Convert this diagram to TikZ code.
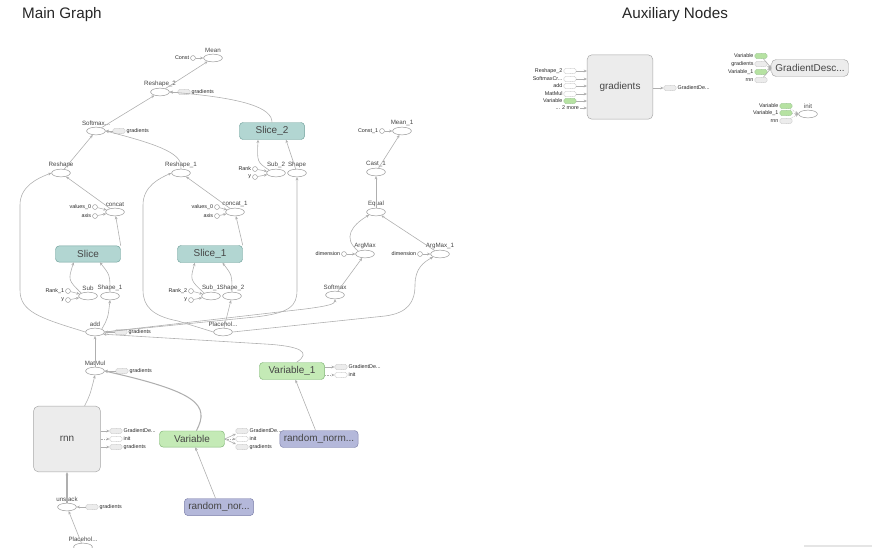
\documentclass[tikz,border=0pt]{standalone}
\usepackage{fontspec}
\setmainfont{Liberation Sans}
\usetikzlibrary{arrows.meta,shapes.geometric}
\definecolor{opline}{RGB}{150,150,150}
\definecolor{edgecol}{RGB}{175,175,175}
\definecolor{labcol}{RGB}{70,70,70}
\definecolor{slicefill}{RGB}{178,214,210}
\definecolor{sliceline}{RGB}{112,160,155}
\definecolor{varfill}{RGB}{196,234,182}
\definecolor{varline}{RGB}{125,180,115}
\definecolor{randfill}{RGB}{180,184,218}
\definecolor{randline}{RGB}{125,128,170}
\definecolor{metafill}{RGB}{236,236,236}
\definecolor{metaline}{RGB}{165,165,165}
\definecolor{gstubfill}{RGB}{182,226,162}
\newcommand\titlefont{\fontsize{13}{15}\selectfont}
\newcommand\boxfont{\fontsize{8.5}{10}\selectfont}
\newcommand\opfont{\fontsize{5.3}{6}\selectfont}
\newcommand\stubfont{\fontsize{4.6}{5.2}\selectfont}
\tikzset{
    opnode/.style = {
        draw=opline, fill=white, ellipse, inner sep=0pt,
        minimum width=16pt, minimum height=6.6pt,
        },
    constnode/.style = {
        draw=opline, fill=white, circle, inner sep=0pt,
        minimum size=4.2pt,
        },
    slicebox/.style = {
        draw=sliceline, fill=slicefill, rounded corners=3pt,
        minimum width=55.5pt, minimum height=13.7pt,
        font=\boxfont, text=labcol,
        },
    varbox/.style = {
        slicebox, draw=varline, fill=varfill,
        },
    randbox/.style = {
        slicebox, draw=randline, fill=randfill,
        },
    metabox/.style = {
        draw=metaline, fill=metafill, rounded corners=4pt,
        font=\boxfont, text=labcol,
        },
    stubbox/.style = {
        draw=gray!45, fill=gray!15, rounded corners=1.5pt,
        dash pattern=on 0.6pt off 0.4pt,
        minimum width=10.5pt, minimum height=4.4pt, inner sep=0pt,
        },
    gstub/.style = {
        stubbox, draw=varline!80, fill=gstubfill,
        },
    wstub/.style = {
        stubbox, fill=white,
        },
    conn/.style = {
        draw=edgecol, line width=0.5pt,
        -{Stealth[length=2.8pt,width=2.4pt]},
        },
    ctrlconn/.style = {
        conn, densely dotted,
        },
    every label/.style = {
        font=\opfont, text=labcol, inner sep=0.6pt,
        },
    sl/.style = {
        font=\stubfont, text=black!85, inner sep=0.8pt,
        },
}

\begin{document}
\begin{tikzpicture}[x=0.03cm, y=-0.03cm]
\useasboundingbox (0,0) rectangle (872,547);

\node[anchor=west, font=\titlefont, text=black!85] (maintitle) at (18,15) {Main Graph};
\node[anchor=west, font=\titlefont, text=black!85] (auxtitle) at (618,15) {Auxiliary Nodes};

% loss
\node[opnode, label=above:Mean] (mean) at (213,58) {};
\node[constnode, label={[sl]left:Const}] (cnst) at (193,58) {};
\node[opnode, label=above:Reshape\_2] (reshape2) at (160,92) {};
\node[stubbox, label={[sl]right:gradients}] (grad1) at (184,92) {};
\node[opnode, label=above:Softmax...] (softx) at (96,131) {};
\node[stubbox, label={[sl]right:gradients}] (grad2) at (119,131) {};
\node[slicebox] (slice2) at (272,131) {Slice\_2};
\node[opnode, label=above:Reshape] (reshape) at (61,173) {};
\node[opnode, label=above:Reshape\_1] (reshape1) at (181,173) {};
\node[opnode, label=above:Sub\_2] (sub2) at (276,173) {};
\node[opnode, label=above:Shape] (shape) at (297,173) {};
\node[constnode, label={[sl]left:Rank}] (rank) at (255,169) {};
\node[constnode, label={[sl]left:y}] (ya) at (255,177) {};

% concat / slice
\node[opnode, label=above:concat] (concat) at (115,212) {};
\node[constnode, label={[sl]left:values\_0}] (vals) at (95,207) {};
\node[constnode, label={[sl]left:axis}] (axis) at (95,216) {};
\node[opnode, label=above:concat\_1] (concat1) at (235,212) {};
\node[constnode, label={[sl]left:values\_0}] (vals1) at (217,207) {};
\node[constnode, label={[sl]left:axis}] (axis1) at (217,216) {};
\node[slicebox] (slice) at (88,254) {Slice};
\node[slicebox] (slice1) at (210,254) {Slice\_1};
\node[opnode, label=above:Sub] (sub) at (88,296) {};
\node[opnode, label=above:Shape\_1] (shape1) at (110,296) {};
\node[constnode, label={[sl]left:Rank\_1}] (rank1) at (68,291) {};
\node[constnode, label={[sl]left:y}] (yb) at (68,300) {};
\node[opnode, label=above:Sub\_1] (sub1) at (211,296) {};
\node[opnode, label=above:Shape\_2] (shape2) at (232,296) {};
\node[constnode, label={[sl]left:Rank\_2}] (rank2) at (191,291) {};
\node[constnode, label={[sl]left:y}] (yc) at (191,300) {};

% accuracy
\node[opnode, label=above:Mean\_1] (mean1) at (402,131) {};
\node[constnode, label={[sl]left:Const\_1}] (cnst1) at (382,131) {};
\node[opnode, label=above:Cast\_1] (cast1) at (376,172) {};
\node[opnode, label=above:Equal] (equal) at (376,212) {};
\node[opnode, label=above:ArgMax] (argmax) at (365,254) {};
\node[constnode, label={[sl]left:dimension}] (dim) at (344,254) {};
\node[opnode, label=above:ArgMax\_1] (argmax1) at (440,254) {};
\node[constnode, label={[sl]left:dimension}] (dim1) at (420,254) {};
\node[opnode, label=above:Softmax] (softmax) at (335,295) {};

% model
\node[opnode, label=above:add] (add) at (95,332) {};
\node[stubbox, label={[sl]right:gradients}] (grad3) at (121,332) {};
\node[opnode, label=above:Placehol...] (placeh1) at (223,332) {};
\node[opnode, label=above:MatMul] (matmul) at (95,371) {};
\node[stubbox, label={[sl]right:gradients}] (grad4) at (122,371) {};
\node[varbox] (var1) at (292,371) {Variable\_1};
\node[stubbox, label={[sl]right:GradientDe...}] (v1gd) at (341,367) {};
\node[wstub, label={[sl]right:init}] (v1init) at (341,375) {};
\node[metabox, minimum width=57pt, minimum height=56pt] (rnn) at (67,439) {rnn};
\node[stubbox, label={[sl]right:GradientDe...}] (rgd) at (116,431) {};
\node[wstub, label={[sl]right:init}] (rinit) at (116,439) {};
\node[stubbox, label={[sl]right:gradients}] (rgrad) at (116,447) {};
\node[varbox] (var) at (192,439) {Variable};
\node[stubbox, label={[sl]right:GradientDe...}] (vgd) at (242,431) {};
\node[wstub, label={[sl]right:init}] (vinit) at (242,439) {};
\node[stubbox, label={[sl]right:gradients}] (vgrad) at (242,447) {};
\node[randbox] (randnorm) at (319,439) {random\_norm...};
\node[randbox] (randnor) at (219,507) {random\_nor...};
\node[opnode, label=above:unstack] (unstack) at (67,507) {};
\node[stubbox, label={[sl]right:gradients}] (grad5) at (92,507) {};
\node[opnode, label=above:Placehol...] (placeh0) at (83,547) {};

% edges, loss
\draw[conn] (cnst) -- (mean);
\draw[conn] (reshape2) -- (mean);
\draw[conn] (grad1) -- (reshape2);
\draw[conn] (softx) -- (reshape2);
\draw[conn] (slice2.north) .. controls (272,108) and (245,98) .. (reshape2.east);
\draw[conn] (grad2) -- (softx);
\draw[conn] (reshape) -- (softx);
\draw[conn] (reshape1.north) .. controls (183,155) and (165,146) .. (softx.east);
\draw[conn] (sub2.north west) .. controls (257,162) .. (slice2.-148);
\draw[conn] (shape) -- (slice2.-32);
\draw[conn] (rank) -- (sub2);
\draw[conn] (ya) -- (sub2);
\draw[conn] (vals) -- (concat);
\draw[conn] (axis) -- (concat);
\draw[conn] (concat) -- (reshape);
\draw[conn] (slice.north east) -- (concat);
\draw[conn] (vals1) -- (concat1);
\draw[conn] (axis1) -- (concat1);
\draw[conn] (concat1) -- (reshape1);
\draw[conn] (slice1.north east) -- (concat1);
\draw[conn] (sub.north west) .. controls (68,280) .. (slice.-150);
\draw[conn] (shape1.north) .. controls (110,275) .. (slice.-35);
\draw[conn] (rank1) -- (sub);
\draw[conn] (yb) -- (sub);
\draw[conn] (sub1.north west) .. controls (190,280) .. (slice1.-150);
\draw[conn] (shape2.north) .. controls (232,275) .. (slice1.-35);
\draw[conn] (rank2) -- (sub1);
\draw[conn] (yc) -- (sub1);

% edges, accuracy
\draw[conn] (cnst1) -- (mean1);
\draw[conn] (cast1) -- (mean1);
\draw[conn] (equal) -- (cast1);
\draw[conn] (argmax.north west) .. controls (342,238) and (352,225) .. (equal.south west);
\draw[conn] (argmax1) -- (equal);
\draw[conn] (dim) -- (argmax);
\draw[conn] (dim1) -- (argmax1);
\draw[conn] (softmax) -- (argmax);

% edges, model
\draw[conn] (add.west) .. controls (40,318) and (20,312) .. (20,290)
    -- (20,205) .. controls (20,186) and (38,178) .. (reshape.west);
\draw[conn] (add.north east) .. controls (108,318) .. (shape1.south);
\draw[conn] (add.east) -- (255,317) .. controls (290,313) and (297,306) .. (297,290) -- (shape.south);
\draw[conn] (add.east) -- (305,309) .. controls (328,306) and (335,304) .. (softmax.south);
\draw[conn] (grad3) -- (add);
\draw[conn] (placeh1.west) -- (178,321) .. controls (152,316) and (143,306) .. (143,290)
    -- (143,205) .. controls (143,186) and (160,178) .. (reshape1.west);
\draw[conn] (placeh1) -- (shape2);
\draw[conn] (placeh1.east) -- (385,316) .. controls (408,313) and (415,302) .. (415,285)
    .. controls (415,268) and (424,262) .. (argmax1.south west);
\draw[conn] (var1.62) .. controls (312,352) and (300,346) .. (265,344) -- (add.-15);
\draw[conn] (matmul) -- (add);
\draw[conn] (grad4) -- (matmul);
\draw[conn] (rnn.62) .. controls (90,395) .. (matmul.south);
\draw[conn, line width=0.9pt] (var.62) .. controls (210,405) and (198,392) .. (matmul.east);
\draw[conn] (randnor) -- (var);
\draw[conn] (randnorm) -- (var1);
\draw[conn, line width=1.1pt] (unstack) -- (rnn);
\draw[conn] (grad5) -- (unstack);
\draw[conn] (placeh0) -- (unstack);
\draw[conn] (var1.east |- v1gd) -- (v1gd);
\draw[ctrlconn] (var1.east |- v1init) -- (v1init);
\draw[conn] (rnn.east |- rgd) -- (rgd);
\draw[ctrlconn] (rnn.east |- rinit) -- (rinit);
\draw[conn] (rnn.east |- rgrad) -- (rgrad);
\draw[conn] (var.east) -- (vgd);
\draw[ctrlconn] (var.east) -- (vinit);
\draw[conn] (var.east) -- (vgrad);

% auxiliary nodes
\node[metabox, minimum width=56pt, minimum height=55pt] (grads) at (620,87) {gradients};
\node[wstub, label={[sl]left:Reshape\_2}] (ain1) at (570,71) {};
\node[wstub, label={[sl]left:SoftmaxCr...}] (ain2) at (570,79) {};
\node[wstub, label={[sl]left:add}] (ain3) at (570,86) {};
\node[wstub, label={[sl]left:MatMul}] (ain4) at (570,94) {};
\node[gstub, label={[sl]left:Variable}] (ain5) at (570,101) {};
\node[font=\stubfont, text=black!85, anchor=east, inner sep=0.8pt] (more) at (580,108) {... 2 more};
\foreach \s in {ain1,ain2,ain3,ain4,ain5,more}
    \draw[conn] (\s.east) -- (grads.west |- \s);
\node[stubbox, label={[sl]right:GradientDe...}] (aout) at (670,88) {};
\draw[conn] (grads.east |- aout) -- (aout);

\node[metabox, minimum width=55.5pt, minimum height=14.5pt] (gdesc) at (810,68) {GradientDesc...};
\node[gstub, label={[sl]left:Variable}] (gd1) at (761,56) {};
\node[stubbox, label={[sl]left:gradients}] (gd2) at (761,64) {};
\node[gstub, label={[sl]left:Variable\_1}] (gd3) at (761,72) {};
\node[stubbox, label={[sl]left:rnn}] (gd4) at (761,80) {};
\foreach \s in {gd1,gd2,gd3,gd4}
    \draw[conn] (\s) -- (gdesc.west);

\node[opnode, label=above:init] (init) at (808,114) {};
\node[gstub, label={[sl]left:Variable}] (in1) at (786,106) {};
\node[gstub, label={[sl]left:Variable\_1}] (in2) at (786,113) {};
\node[stubbox, label={[sl]left:rnn}] (in3) at (786,121) {};
\foreach \s in {in1,in2,in3}
    \draw[ctrlconn] (\s) -- (init.west);

\draw[gray!20, line width=1pt] (804,546) -- (872,546);
\end{tikzpicture}
\end{document}
